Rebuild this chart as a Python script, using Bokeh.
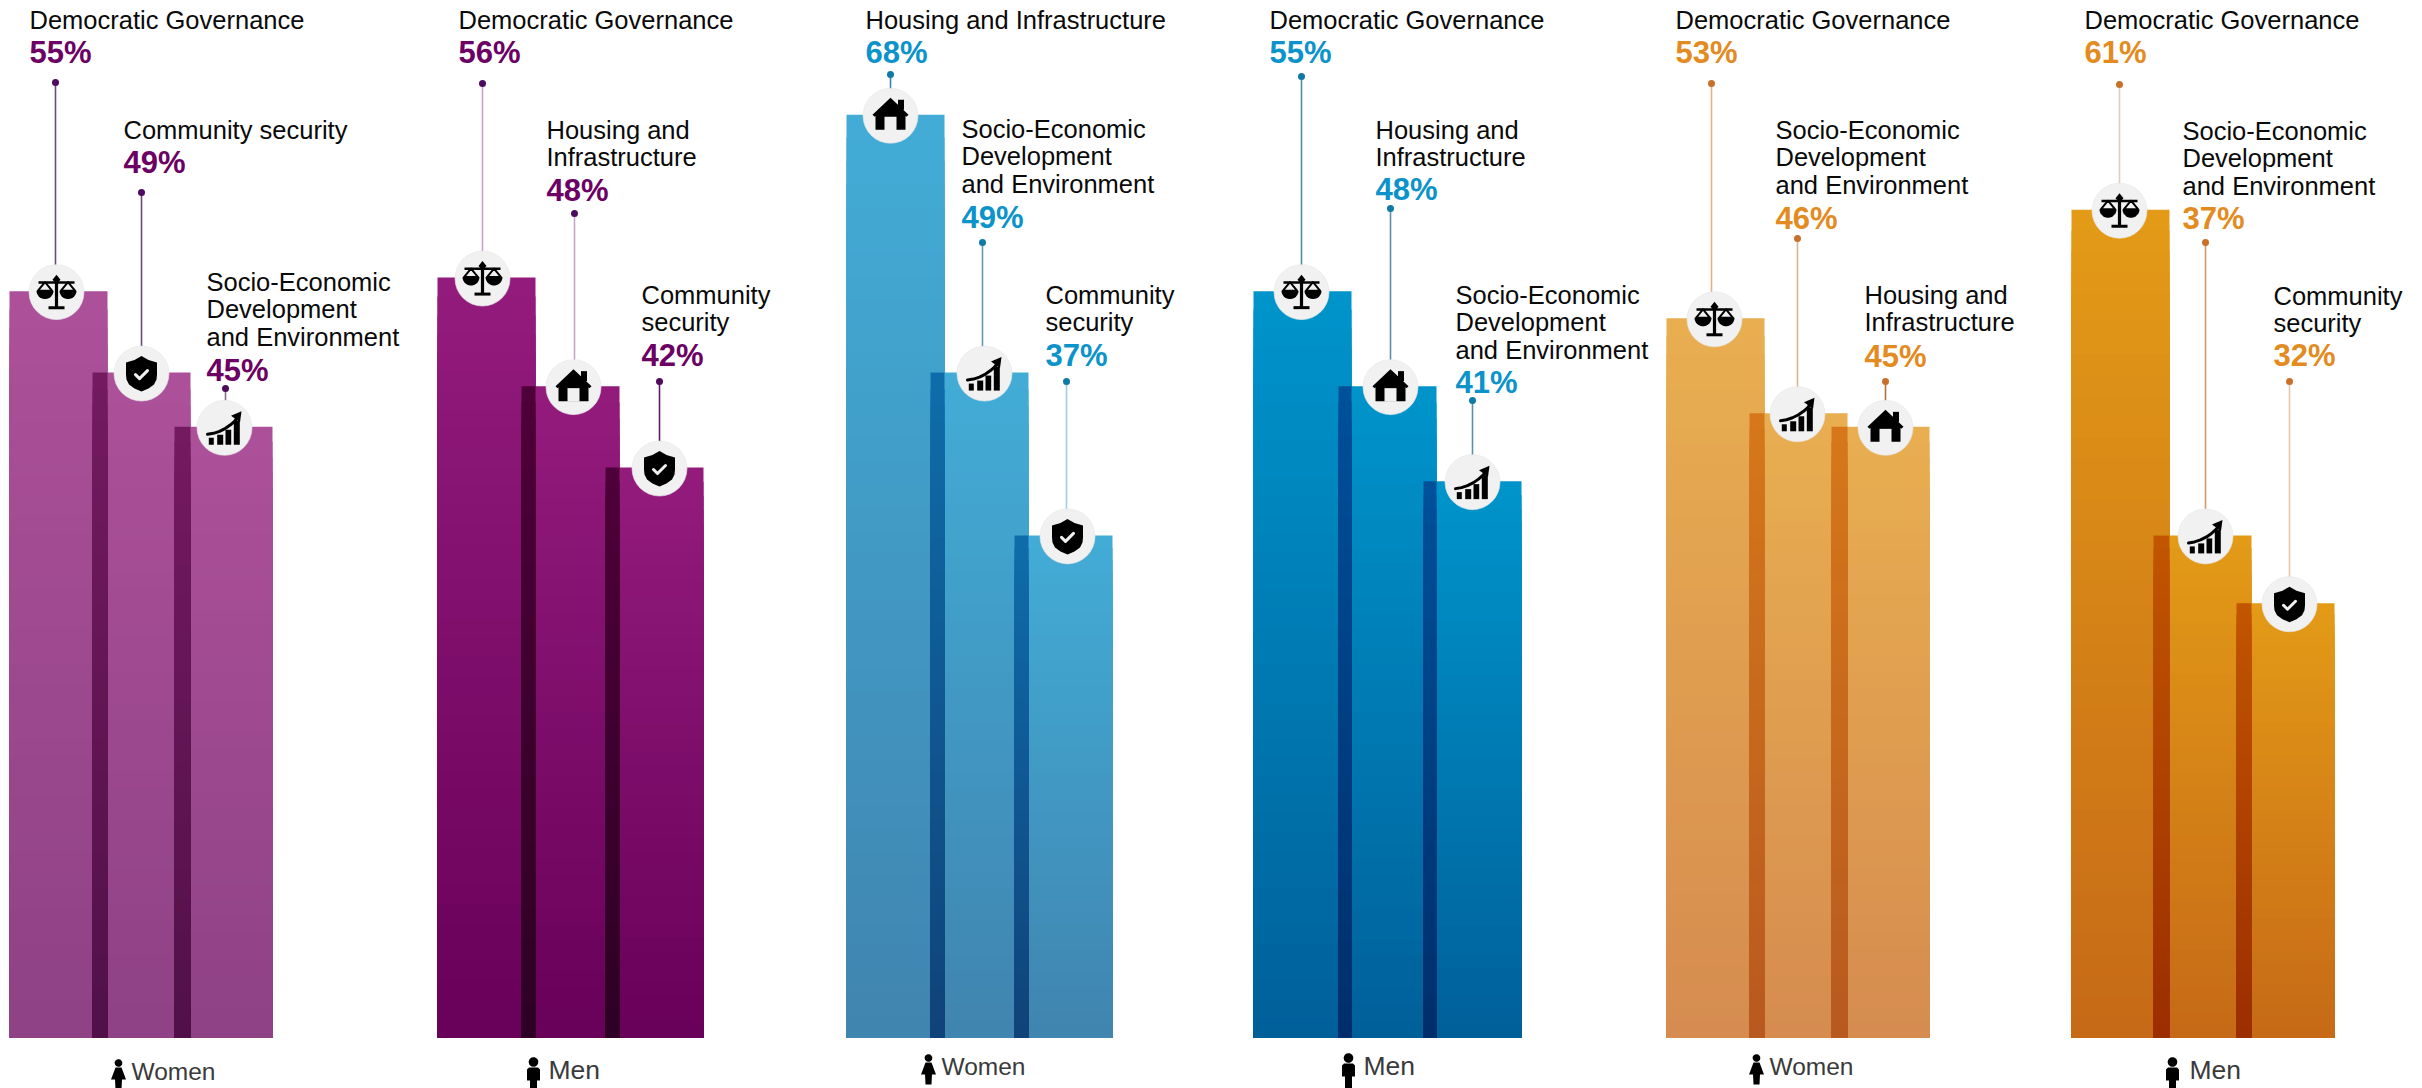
from bokeh.plotting import figure
from bokeh.models import Range1d
from bokeh.core.properties import value
from bokeh.embed import file_html
from bokeh.resources import INLINE
import numpy as np

# ---------- data ----------
genders = ["Women", "Men", "Women", "Men", "Women", "Men"]
labels = [
    ["Democratic Governance", "Community security", "Socio-Economic\nDevelopment\nand Environment"],
    ["Democratic Governance", "Housing and\nInfrastructure", "Community\nsecurity"],
    ["Housing and Infrastructure", "Socio-Economic\nDevelopment\nand Environment", "Community\nsecurity"],
    ["Democratic Governance", "Housing and\nInfrastructure", "Socio-Economic\nDevelopment\nand Environment"],
    ["Democratic Governance", "Socio-Economic\nDevelopment\nand Environment", "Housing and\nInfrastructure"],
    ["Democratic Governance", "Socio-Economic\nDevelopment\nand Environment", "Community\nsecurity"],
]
values = [
    [55, 49, 45],
    [56, 48, 42],
    [68, 49, 37],
    [55, 48, 41],
    [53, 46, 45],
    [61, 37, 32],
]

# ---------- layout (page pixels) ----------
W, H = 2422, 1088
BASE = 1037
PX_PER_PCT = 13.57
BAR_W = 98
bar_x = [[9, 92, 174], [437, 521, 605], [846, 930, 1014],
         [1253, 1338, 1423], [1666, 1749, 1831], [2071, 2153, 2236]]
label_x = [[29, 123, 206], [458, 546, 641], [865, 961, 1045],
           [1269, 1375, 1455], [1675, 1775, 1864], [2084, 2182, 2273]]
label_base = [[28, 138, 290], [28, 138, 303], [28, 137, 303],
              [28, 138, 303], [28, 138, 303], [28, 139, 304]]
pct_base = [[63, 173, 381], [63, 201, 366], [63, 228, 366],
            [63, 200, 393], [63, 229, 367], [63, 229, 366]]
dot_x = [[55, 141, 225], [482, 574, 659], [890, 982, 1066],
         [1301, 1390, 1472], [1711, 1797, 1885], [2119, 2205, 2289]]
dot_y = [[82, 192, 388], [83, 213, 381], [74, 242, 381],
         [76, 208, 400], [83, 238, 381], [84, 242, 381]]
circ_x = [[56, 141, 224], [482, 573, 659], [890, 984, 1067],
          [1301, 1390, 1472], [1714, 1797, 1885], [2119, 2205, 2289]]
icons = [["scale", "shield", "chart"], ["scale", "house", "shield"], ["house", "chart", "shield"],
         ["scale", "house", "chart"], ["scale", "chart", "house"], ["scale", "chart", "shield"]]
foot_icon_x = [118, 533, 928, 1348, 1756, 2172]
foot_text_x = [131, 548, 941, 1363, 1769, 2189]
foot_base = [1079, 1078, 1074, 1074, 1074, 1078]

# ---------- styles ----------
bar_top = ["#AC509A", "#931B7C", "#42ACD6", "#0094CB", "#E8AE50", "#E39A17"]
bar_bot = ["#8F4285", "#690059", "#4085B0", "#00609A", "#D68C50", "#C66A17"]
ov_top = ["#731A60", "#4E0038", "#0F6CAA", "#00509A", "#D5771A", "#C15500"]
ov_bot = ["#511148", "#2E0025", "#10437A", "#002E6C", "#B85A20", "#9C2E00"]
pct_col = ["#6C0063", "#6C0063", "#0B93CA", "#0B93CA", "#E38B20", "#E38B20"]
dot_col = ["#4E0A5C", "#4E0A5C", "#0F7AA5", "#0F7AA5", "#C8702A", "#C8702A"]
stem_col = [["#6A4A78", "#6A4A78", "#8A6A8E"], ["#C6A6C8", "#C6A6C8", "#5A1D64"],
            ["#2E86AE", "#5E98B5", "#A0CDE0"], ["#4E8CAA", "#5E8FA8", "#5E8FA8"],
            ["#E3B184", "#DDB48D", "#B5713A"], ["#E2CDBA", "#D09A6A", "#E5C5AC"]]
CIRC = "#F1F1F1"
FONT = value("Liberation Sans")


def hex2rgb(c):
    return np.array([int(c[i:i + 2], 16) for i in (1, 3, 5)], float)


def ramp(c0, c1, t):
    v = hex2rgb(c0) * (1 - t) + hex2rgb(c1) * t
    return "#%02x%02x%02x" % tuple(int(round(a)) for a in v)


p = figure(width=W, height=H, output_backend="svg", toolbar_location=None,
           x_range=Range1d(0, W),
           y_range=Range1d((BASE - H) / PX_PER_PCT, BASE / PX_PER_PCT),
           min_border=0, outline_line_color=None, background_fill_color="white")
p.extra_y_ranges = {"px": Range1d(H, 0)}
p.xaxis.visible = False
p.yaxis.visible = False
p.grid.visible = False
PX = dict(y_range_name="px")

# ---------- bars (vertical gradient as nested strips, painted tallest first) ----------
N = 40
L, R, T, C = [], [], [], []
for i in range(6):
    for j in range(3):
        x0 = bar_x[i][j]
        for k in range(N):
            L.append(x0)
            R.append(x0 + BAR_W)
            T.append(values[i][j] * (1 - k / N))
            C.append(ramp(bar_top[i], bar_bot[i], k / (N - 1)))
    for j in (1, 2):
        x0 = bar_x[i][j]
        x1 = bar_x[i][j - 1] + BAR_W
        for k in range(N):
            L.append(x0)
            R.append(x1)
            T.append(values[i][j] * (1 - k / N))
            C.append(ramp(ov_top[i], ov_bot[i], k / (N - 1)))
p.quad(left=L, right=R, bottom=0, top=T, fill_color=C, line_color=None)


# ---------- stems and discs ----------
def top_px(v):
    return BASE - v * PX_PER_PCT


for i in range(6):
    for j in range(3):
        p.line([dot_x[i][j], dot_x[i][j]], [dot_y[i][j], top_px(values[i][j])],
               line_color=stem_col[i][j], line_width=1.6, **PX)
cx = [a for r in circ_x for a in r]
cy = [top_px(v) + 1 for r in values for v in r]
p.scatter(cx, cy, size=55, marker="circle", fill_color=CIRC, line_color="#E6E6E6", line_width=0.6, **PX)
p.scatter([a for r in dot_x for a in r], [a for r in dot_y for a in r], size=7, marker="circle",
          fill_color=[dot_col[i] for i in range(6) for _ in range(3)], line_color=None, **PX)


# ---------- icons ----------
def arc(cx0, cy0, r, a0, a1, n=14):
    a = np.radians(np.linspace(a0, a1, n))
    return list(cx0 + r * np.cos(a)), list(cy0 + r * np.sin(a))


def rect(x0, y0, x1, y1):
    return [x0, x1, x1, x0], [y0, y0, y1, y1]


def draw_poly(cx0, cy0, shapes, color="black"):
    p.patches([[cx0 + a for a in s[0]] for s in shapes], [[cy0 + a for a in s[1]] for s in shapes],
              fill_color=color, line_color=None, **PX)


def draw_line(cx0, cy0, xs, ys, width, color="black"):
    p.line([cx0 + a for a in xs], [cy0 + a for a in ys], line_color=color, line_width=width,
           line_join="round", line_cap="round", **PX)


def icon_scale(x, y):
    shapes = [rect(-18, -11, 18, -8.5), rect(-1.6, -13, 1.6, 15), rect(-8, 14, 8, 17),
              ([0, 4, 0, -4], [-17.5, -12.5, -8, -12.5])]
    for s in (-1, 1):
        ax, ay = arc(s * 11.5, -1.5, 8.5, 0, 180)
        shapes.append((ax, ay))
        draw_line(x, y, [s * 4.5, s * 11.5, s * 18.5, s * 4.5], [-1.5, -10, -1.5, -1.5], 2)
    draw_poly(x, y, shapes)


def icon_shield(x, y):
    xs = [0, 7, 15.5, 15.5, 15, 12.5, 7, 0, -7, -12.5, -15, -15.5, -15.5, -7]
    ys = [-17.5, -13.5, -11, 1, 6, 11, 15, 18, 15, 11, 6, 1, -11, -13.5]
    draw_poly(x, y, [(xs, ys)])
    draw_line(x, y, [-6, -2, 6], [1, 5, -3], 3, CIRC)


def icon_house(x, y):
    roof = ([0, 18, 16, 15, 15, -15, -15, -16, -18], [-18, -1, 1, 0, 14, 14, 0, 1, -1])
    chim = rect(7.5, -16, 13.5, -6)
    draw_poly(x, y, [roof, chim])
    draw_poly(x, y, [rect(-6, 1, 6, 14.5)], CIRC)


def icon_chart(x, y):
    bars = [rect(-15.7, 10, -10.7, 17), rect(-7.3, 7, -1.3, 17), rect(1, 2, 6.7, 17), rect(9.3, -7, 15.3, 17)]
    head = ([17, 6.5, 15.5], [-16.5, -12, -5.5])
    draw_poly(x, y, bars + [head])
    draw_line(x, y, [-17, -11, -5, 1, 6, 10, 13], [6.5, 5.5, 3.5, 0.5, -3, -6.5, -10], 3)


ICON = {"scale": icon_scale, "shield": icon_shield, "house": icon_house, "chart": icon_chart}
for i in range(6):
    for j in range(3):
        ICON[icons[i][j]](circ_x[i][j], top_px(values[i][j]) + 1)


def icon_person(x, gender, base):
    top = base - 22
    if gender == "Women":
        hx, hy = arc(0, 3.5, 3.8, 0, 360, 20)
        body = ([-3, 3, 7.5, 3.5, 3, -3, -3.5, -7.5], [8, 8, 20, 20, 30, 30, 20, 20])
    else:
        hx, hy = arc(0, 3.5, 4.8, 0, 360, 20)
        body = ([-4.5, 4.5, 6.5, 6.5, 3.5, 3.5, -3.5, -3.5, -6.5, -6.5], [9, 9, 11, 22, 22, 34, 34, 22, 22, 11])
    draw_poly(x, top, [(hx, hy), body])


# ---------- texts ----------
tx, ty, tt = [], [], []
bx, by, bt, bc = [], [], [], []
LEAD = 27.5
for i in range(6):
    for j in range(3):
        for n, line in enumerate(labels[i][j].split("\n")):
            tx.append(label_x[i][j])
            ty.append(label_base[i][j] + n * LEAD - 9)
            tt.append(line)
        bx.append(label_x[i][j])
        by.append(pct_base[i][j] - 11)
        bt.append("%d%%" % values[i][j])
        bc.append(pct_col[i])
p.text(tx, ty, text=tt, text_font=FONT, text_font_size="25.5px", text_color="#0A0A0A",
       text_baseline="middle", text_align="left", **PX)
p.text(bx, by, text=bt, text_font=FONT, text_font_size="31px", text_font_style="bold",
       text_color=bc, text_baseline="middle", text_align="left", **PX)

for i in range(6):
    icon_person(foot_icon_x[i], genders[i], foot_base[i] + 2)
for name, size in (("Women", "24.5px"), ("Men", "26.5px")):
    idx = [i for i in range(6) if genders[i] == name]
    p.text([foot_text_x[i] for i in idx], [foot_base[i] - 8.5 for i in idx], text=[genders[i] for i in idx],
           text_font=FONT, text_font_size=size, text_color="#3A3A3A",
           text_baseline="middle", text_align="left", **PX)

open("out.html", "w").write(file_html(p, INLINE))
